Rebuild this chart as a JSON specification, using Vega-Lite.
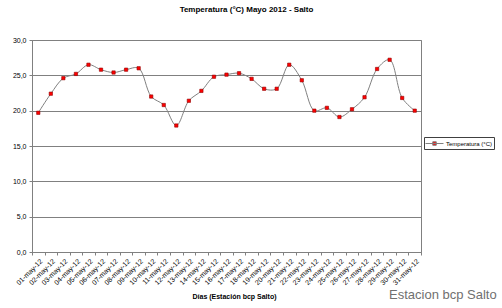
{
  "$schema": "https://vega.github.io/schema/vega-lite/v6.json",
  "width": 389,
  "height": 212,
  "autosize": {"type": "none"},
  "padding": {"left": 32, "top": 40, "right": 81, "bottom": 56},
  "background": "white",
  "config": {
    "font": "Liberation Sans",
    "view": {"stroke": "#808080", "strokeWidth": 1}
  },
  "title": {
    "text": "Temperatura (°C) Mayo 2012 - Salto",
    "fontSize": 8,
    "fontWeight": "bold",
    "color": "black",
    "anchor": "middle",
    "dx": 20,
    "offset": 22
  },
  "layer": [
    {
      "data": {
        "values": [
          {"dia": "01-may-12", "temp": 19.7},
          {"dia": "02-may-12", "temp": 22.4},
          {"dia": "03-may-12", "temp": 24.6},
          {"dia": "04-may-12", "temp": 25.2},
          {"dia": "05-may-12", "temp": 26.5},
          {"dia": "06-may-12", "temp": 25.8},
          {"dia": "07-may-12", "temp": 25.4},
          {"dia": "08-may-12", "temp": 25.8},
          {"dia": "09-may-12", "temp": 26.0},
          {"dia": "10-may-12", "temp": 22.0},
          {"dia": "11-may-12", "temp": 20.8},
          {"dia": "12-may-12", "temp": 17.9},
          {"dia": "13-may-12", "temp": 21.4},
          {"dia": "14-may-12", "temp": 22.8},
          {"dia": "15-may-12", "temp": 24.8},
          {"dia": "16-may-12", "temp": 25.1},
          {"dia": "17-may-12", "temp": 25.3},
          {"dia": "18-may-12", "temp": 24.5},
          {"dia": "19-may-12", "temp": 23.1},
          {"dia": "20-may-12", "temp": 23.1},
          {"dia": "21-may-12", "temp": 26.5},
          {"dia": "22-may-12", "temp": 24.3},
          {"dia": "23-may-12", "temp": 20.0},
          {"dia": "24-may-12", "temp": 20.4},
          {"dia": "25-may-12", "temp": 19.1},
          {"dia": "26-may-12", "temp": 20.2},
          {"dia": "27-may-12", "temp": 21.9},
          {"dia": "28-may-12", "temp": 25.9},
          {"dia": "29-may-12", "temp": 27.2},
          {"dia": "30-may-12", "temp": 21.8},
          {"dia": "31-may-12", "temp": 20.0}
        ]
      },
      "encoding": {
        "x": {
          "field": "dia",
          "type": "nominal",
          "sort": null,
          "bandPosition": 0.5,
          "scale": {"type": "band", "paddingInner": 0, "paddingOuter": 0},
          "axis": {
            "title": "Días (Estación  bcp Salto)",
            "titleFontSize": 7,
            "titleFontWeight": "bold",
            "titleColor": "black",
            "titlePadding": 7,
            "titleX": 202,
            "labelAngle": -45,
            "labelFontSize": 7,
            "labelColor": "black",
            "labelPadding": 2,
            "tickBand": "extent",
            "tickColor": "#808080",
            "tickSize": 3,
            "domainColor": "#808080",
            "grid": false
          }
        },
        "y": {
          "field": "temp",
          "type": "quantitative",
          "scale": {"domain": [0, 30], "nice": false, "zero": true},
          "axis": {
            "title": null,
            "values": [0, 5, 10, 15, 20, 25, 30],
            "labelExpr": "replace(format(datum.value, '.1f'), '.', ',')",
            "labelFontSize": 7,
            "labelColor": "black",
            "labelPadding": 3,
            "tickColor": "#808080",
            "tickSize": 3,
            "domainColor": "#808080",
            "gridColor": "#808080",
            "gridOpacity": 1,
            "gridWidth": 1
          }
        }
      },
      "layer": [
        {
          "mark": {"type": "line", "interpolate": "catmull-rom", "strokeWidth": 1},
          "encoding": {
            "color": {
              "datum": "Temperatura (°C)",
              "scale": {"range": ["#808080"]},
              "legend": {
                "title": null,
                "orient": "none",
                "legendX": 392,
                "legendY": 97,
                "strokeColor": "#404040",
                "fillColor": "white",
                "padding": 1,
                "symbolType": "M-1.8,0H1.8M-0.35,-0.35H0.35V0.35H-0.35Z",
                "symbolSize": 100,
                "symbolFillColor": "#ff0000",
                "symbolStrokeColor": "#808080",
                "symbolStrokeWidth": 1,
                "symbolOffset": 4,
                "labelFontSize": 6,
                "labelColor": "black",
                "labelOffset": 6
              }
            }
          }
        },
        {
          "mark": {"type": "point", "shape": "square", "filled": true, "size": 11, "color": "#ff0000", "stroke": "#900000", "strokeWidth": 0.6, "opacity": 1}
        }
      ]
    },
    {
      "data": {"values": [{"wm": "Estacion bcp Salto"}]},
      "mark": {"type": "text", "align": "right", "baseline": "middle", "fontSize": 13, "color": "#707070", "dx": 82},
      "encoding": {
        "x": {"datum": "31-may-12", "type": "nominal", "bandPosition": 0.5},
        "y": {
          "datum": -6.1,
          "type": "quantitative",
          "axis": {
            "title": null,
            "values": [0, 5, 10, 15, 20, 25, 30],
            "labelExpr": "replace(format(datum.value, '.1f'), '.', ',')",
            "labelFontSize": 7,
            "labelColor": "black",
            "labelPadding": 3,
            "tickColor": "#808080",
            "tickSize": 3,
            "domainColor": "#808080",
            "gridColor": "#808080",
            "gridOpacity": 1,
            "gridWidth": 1
          }
        },
        "text": {"field": "wm", "type": "nominal"}
      }
    }
  ]
}
